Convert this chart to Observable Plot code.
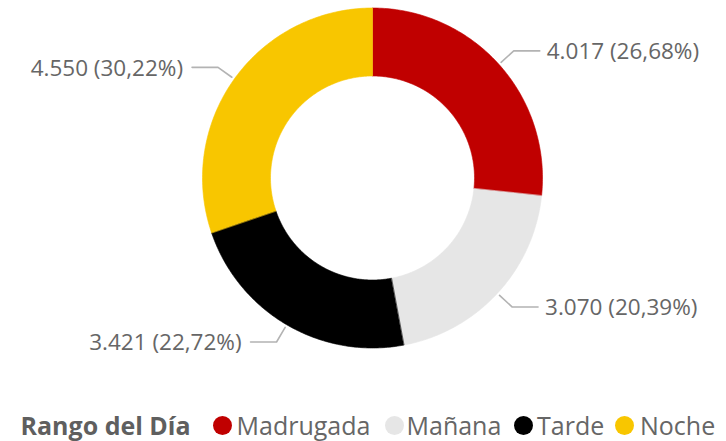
<!DOCTYPE html>
<html><head><meta charset="utf-8">
<script src="https://cdn.jsdelivr.net/npm/d3@7"></script>
<script src="https://cdn.jsdelivr.net/npm/@observablehq/plot@0.6"></script>
<style>
body{margin:0;background:#fff;font-family:"Open Sans",sans-serif;}
#chart{width:726px;height:441px;position:relative;overflow:hidden;}
#legend{position:absolute;left:0;top:405px;width:726px;height:40px;color:#666;font-size:25px;}
#legend span{position:absolute;white-space:nowrap;line-height:40px;top:0;}
#legend .title{font-weight:700;color:#5f5f5f;}
#legend .sw{width:19px;height:19px;border-radius:50%;top:10.5px;}
</style></head><body><div id="chart"></div><script>
const categories = ["Madrugada", "Mañana", "Tarde", "Noche"];
const values = [4017, 3070, 3421, 4550];
const colors = ["#C00000", "#E6E6E6", "#000000", "#F8C600"];
const legendTitle = "Rango del Día";

const W = 726, H = 400, cx = 372, cy = 177.5, R = 170;
const innerRatio = 0.6;

const loc = d3.formatLocale({decimal: ",", thousands: ".", grouping: [3], currency: ["", ""]});
const fmtInt = loc.format(",d");
const fmtPct = loc.format(".2%");
const total = d3.sum(values);

const arcs = d3.pie().sort(null).value(d => d)(values);

// polygon vertices for each slice
const slicePts = [];
arcs.forEach((a, i) => {
  const n = 120;
  for (let k = 0; k <= n; k++) {
    const t = a.startAngle + (a.endAngle - a.startAngle) * k / n;
    slicePts.push({cat: categories[i], x: Math.sin(t), y: Math.cos(t)});
  }
  for (let k = n; k >= 0; k--) {
    const t = a.startAngle + (a.endAngle - a.startAngle) * k / n;
    slicePts.push({cat: categories[i], x: innerRatio * Math.sin(t), y: innerRatio * Math.cos(t)});
  }
});

// leader lines and labels
const leaderPts = [];
const labels = [];
arcs.forEach((a, i) => {
  const m = (a.startAngle + a.endAngle) / 2;
  const side = Math.sin(m) >= 0 ? 1 : -1;
  const r1 = 173 / R, r2 = 190 / R;
  const ex = r2 * Math.sin(m), ey = r2 * Math.cos(m);
  leaderPts.push({cat: categories[i], x: r1 * Math.sin(m), y: r1 * Math.cos(m)});
  leaderPts.push({cat: categories[i], x: ex, y: ey});
  leaderPts.push({cat: categories[i], x: ex + side * 26 / R, y: ey});
  labels.push({side, x: ex + side * 26 / R, y: ey,
    text: `${fmtInt(values[i])} (${fmtPct(values[i] / total)})`});
});

const plot = Plot.plot({
  width: W, height: H,
  margin: 0,
  x: {domain: [-cx / R, (W - cx) / R], axis: null},
  y: {domain: [-(H - cy) / R, cy / R], axis: null},
  color: {domain: categories, range: colors},
  style: {fontFamily: "'Open Sans', sans-serif", background: "#fff", overflow: "visible"},
  marks: [
    Plot.line(slicePts, {x: "x", y: "y", z: "cat", fill: "cat", stroke: "cat", strokeWidth: 0.6, curve: "linear-closed"}),
    Plot.line(leaderPts, {x: "x", y: "y", z: "cat", stroke: "#b3b3b3", strokeWidth: 1.6}),
    Plot.text(labels.filter(d => d.side > 0), {x: "x", y: "y", text: "text", textAnchor: "start", dx: 7, dy: 1, fontSize: 22.5, fill: "#666"}),
    Plot.text(labels.filter(d => d.side < 0), {x: "x", y: "y", text: "text", textAnchor: "end", dx: -9, dy: 1, fontSize: 22.5, fill: "#666"})
  ]
});

const chart = document.getElementById("chart");
chart.appendChild(plot);

// legend layout (item positions in px)
const swatchCenters = [222, 394, 523.5, 624];
const labelStarts = [236.5, 406.5, 537, 640];
const legend = document.createElement("div");
legend.id = "legend";
const title = document.createElement("span");
title.className = "title";
title.style.left = "20.5px";
title.textContent = legendTitle;
legend.appendChild(title);
categories.forEach((c, i) => {
  const sw = document.createElement("span");
  sw.className = "sw";
  sw.style.background = colors[i];
  sw.style.left = (swatchCenters[i] - 9.5) + "px";
  legend.appendChild(sw);
  const lab = document.createElement("span");
  lab.style.left = labelStarts[i] + "px";
  lab.textContent = c;
  legend.appendChild(lab);
});
chart.appendChild(legend);
</script></body></html>
